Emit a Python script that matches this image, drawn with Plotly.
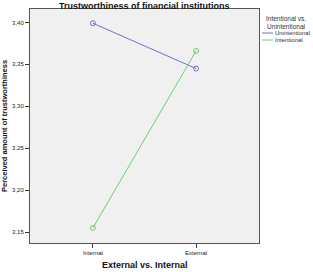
import plotly.graph_objects as go

categories = ["Internal", "External"]
series_names = ["Unintentional", "Intentional"]
unintentional = [3.399, 3.345]
intentional = [3.155, 3.366]
y_ticks = [3.15, 3.20, 3.25, 3.30, 3.35, 3.40]
colors = ["#6f6fcf", "#6fcf6f"]

fig = go.Figure()
for name, vals, col in zip(series_names, [unintentional, intentional], colors):
    fig.add_trace(go.Scatter(
        x=[0, 1], y=vals, mode="lines+markers", name=name,
        line=dict(color=col, width=1),
        marker=dict(symbol="circle-open", size=5, color=col, line=dict(width=1)),
        showlegend=False,
    ))

W, H = 313, 272
ml, mr, mt, mb = 30, 54, 9, 29
fig.update_layout(
    width=W, height=H,
    margin=dict(l=ml, r=mr, t=mt, b=mb),
    paper_bgcolor="white",
    plot_bgcolor="#f0f0f0",
    separators=", ",
    font=dict(family="Liberation Sans, Arial, sans-serif", color="#222222", size=6),
    showlegend=False,
)
fig.update_xaxes(
    range=[-0.61, 1.61], tickvals=[0, 1], ticktext=categories,
    showgrid=False, zeroline=False, showline=True, linecolor="#555555", linewidth=1,
    mirror=True, ticks="outside", ticklen=4, tickcolor="#333333",
    tickfont=dict(size=6),
)
fig.update_yaxes(
    range=[3.137, 3.416], tickvals=y_ticks, tickformat=".2f",
    showgrid=False, zeroline=False, showline=True, linecolor="#555555", linewidth=1,
    mirror=True, ticks="outside", ticklen=4, tickcolor="#333333",
    tickfont=dict(size=6),
)

# Title
fig.add_annotation(text="<b>Trustworthiness of financial institutions</b>", xref="paper", yref="paper",
                   x=0.5, y=1, yshift=mt - 6, yanchor="middle", showarrow=False,
                   font=dict(size=9, color="#111111"))
# Axis titles
fig.add_annotation(text="<b>External vs. Internal</b>", xref="paper", yref="paper",
                   x=0.5, y=0, yshift=-22, yanchor="middle", showarrow=False,
                   font=dict(size=9, color="#111111"))
fig.add_annotation(text="<b>Perceived amount of trustworthiness</b>", xref="paper", yref="paper",
                   x=0, y=0.5, xshift=-26, textangle=-90, xanchor="center", showarrow=False,
                   font=dict(size=7.5, color="#111111"))

# Legend (manual)
fig.add_annotation(text="Intentional vs.<br>Unintentional", xref="paper", yref="paper",
                   x=1, xshift=27, y=1, yshift=-4, xanchor="center", yanchor="top", showarrow=False,
                   align="center", font=dict(size=6.5, color="#333333"))
pw = W - ml - mr
ph = H - mt - mb
for i, (name, col) in enumerate(zip(series_names, colors)):
    yy = 1 - (24 + 7 * i) / ph
    fig.add_shape(type="line", xref="paper", yref="paper",
                  x0=1 + 3 / pw, x1=1 + 14 / pw, y0=yy, y1=yy,
                  line=dict(color=col, width=1))
    fig.add_annotation(text=name, xref="paper", yref="paper", x=1 + 14 / pw, y=yy,
                       xanchor="left", yanchor="middle", showarrow=False,
                       font=dict(size=6, color="#333333"))

fig.write_html("out.html")
